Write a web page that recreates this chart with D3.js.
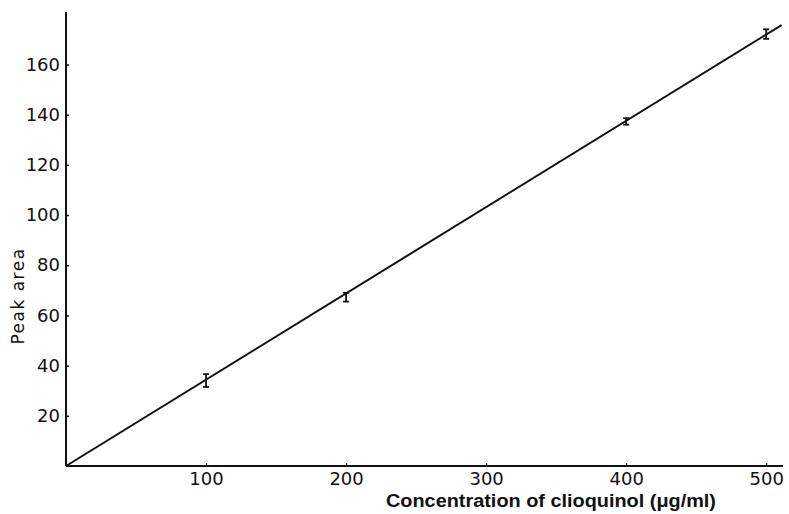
<!DOCTYPE html>
<html>
<head>
<meta charset="utf-8">
<script src="https://cdn.jsdelivr.net/npm/d3@7"></script>
<style>
  body { margin: 0; background: #fff; }
  text { font-family: "DejaVu Sans", sans-serif; fill: #111; }
</style>
</head>
<body>
<div id="vis"></div>
<script>
// measured points (concentration, peak area, error bar ends)
var conc = [100, 200, 400, 500];
var area = [34, 67.5, 137.3, 172];
var errLow = [31.5, 65.5, 136, 170.2];
var errHigh = [36.6, 69, 138.6, 174];

// fitted calibration line
var fitX = [0, 511];
var fitY = [0, 175.7];

var xTicks = [100, 200, 300, 400, 500];
var yTicks = [20, 40, 60, 80, 100, 120, 140, 160];

var width = 789, height = 514;

var x = d3.scaleLinear().domain([0, 512]).range([66, 783]);
var y = d3.scaleLinear().domain([0, 180.9]).range([466, 12]);

var svg = d3.select('#vis').append('svg')
    .attr('width', width)
    .attr('height', height);

// y axis
var yAxis = svg.append('g')
    .attr('transform', 'translate(' + x(0) + ',0)')
    .call(d3.axisLeft(y).tickValues(yTicks).tickSize(-3).tickPadding(6));
yAxis.select('.domain').attr('d', 'M0,' + y(0) + 'V' + y.range()[1])
    .attr('stroke', '#111').attr('stroke-width', 2);
yAxis.selectAll('.tick line').attr('stroke', '#111').attr('stroke-width', 1.5);
yAxis.selectAll('.tick text').style('font-size', '18px').attr('fill', '#111');

// x axis
var xAxis = svg.append('g')
    .attr('transform', 'translate(0,' + y(0) + ')')
    .call(d3.axisBottom(x).tickValues(xTicks).tickSize(-3).tickPadding(6));
xAxis.select('.domain').attr('d', 'M' + x(0) + ',0H' + x.range()[1])
    .attr('stroke', '#111').attr('stroke-width', 2);
xAxis.selectAll('.tick line').attr('stroke', '#111').attr('stroke-width', 1.2);
xAxis.selectAll('.tick text').style('font-size', '18px').attr('fill', '#111');

// fitted line
svg.append('path')
    .datum(d3.zip(fitX, fitY))
    .attr('d', d3.line().x(d => x(d[0])).y(d => y(d[1])))
    .attr('fill', 'none')
    .attr('stroke', '#111')
    .attr('stroke-width', 2);

// error bars
var pts = conc.map((c, i) => ({c: c, v: area[i], lo: errLow[i], hi: errHigh[i]}));
var eb = svg.append('g').attr('stroke', '#111').attr('stroke-width', 1.8);
eb.selectAll('line.v').data(pts).enter().append('line')
    .attr('x1', d => x(d.c)).attr('x2', d => x(d.c))
    .attr('y1', d => y(d.lo)).attr('y2', d => y(d.hi));
eb.selectAll('line.t').data(pts).enter().append('line')
    .attr('x1', d => x(d.c) - 3).attr('x2', d => x(d.c) + 3)
    .attr('y1', d => y(d.hi)).attr('y2', d => y(d.hi));
eb.selectAll('line.b').data(pts).enter().append('line')
    .attr('x1', d => x(d.c) - 3).attr('x2', d => x(d.c) + 3)
    .attr('y1', d => y(d.lo)).attr('y2', d => y(d.lo));

// axis titles
svg.append('text')
    .attr('x', 386).attr('y', 507)
    .attr('textLength', 330)
    .attr('lengthAdjust', 'spacingAndGlyphs')
    .style('font-family', '"Liberation Sans", sans-serif')
    .style('font-weight', 'bold')
    .style('font-size', '18px')
    .text('Concentration of clioquinol (\u03bcg/ml)');

svg.append('text')
    .attr('transform', 'translate(24,296) rotate(-90)')
    .attr('text-anchor', 'middle')
    .style('font-size', '17px')
    .style('letter-spacing', '1.5px')
    .text('Peak  area');
</script>
</body>
</html>
